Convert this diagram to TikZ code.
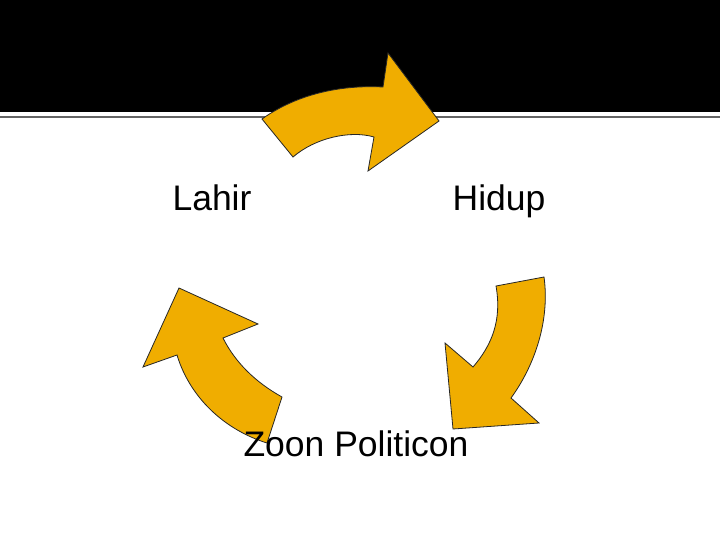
\documentclass[tikz,border=0pt]{standalone}
\usepackage{fontspec}
\setmainfont{Liberation Sans}
\usepackage{xcolor}
\definecolor{cyclegold}{RGB}{240,173,0}
\definecolor{rulegrey}{RGB}{100,100,100}

\begin{document}
\begin{tikzpicture}[
    x=1pt, y=-1pt,
    every node/.style={font=\fontsize{35.5}{42}\selectfont, inner sep=0pt, anchor=base},
    band/.style={fill=black},
    rule/.style={draw=rulegrey, line width=1.2pt},
    blockarrow/.style={fill=cyclegold, draw=black!85, line width=0.8pt, line join=miter}
]
\useasboundingbox (0,0) rectangle (720,540);
\fill[white] (0,0) rectangle (720,540);

% title band
\fill[band] (0,0) rectangle (720,112.5);
\draw[rule] (0,117) -- (720,117);

% top arrow: Lahir -> Hidup
\draw[blockarrow] (262,119) .. controls (300,92) and (345,85) .. (383,87)
    -- (388,53) -- (439,121) -- (368,171) -- (374,137)
    .. controls (350,130) and (315,138) .. (293,157) -- cycle;

% right arrow: Hidup -> Zoon Politicon
\draw[blockarrow] (544,277) -- (496,286)
    .. controls (502,320) and (492,345) .. (473,367)
    -- (445,343) -- (453,429) -- (539,423) -- (511,398)
    .. controls (535,365) and (550,320) .. (544,277) -- cycle;

% left arrow: Zoon Politicon -> Lahir
\draw[blockarrow] (267,443) -- (282,397)
    .. controls (255,382) and (235,362) .. (223,338)
    -- (258,324) -- (179,288) -- (143,367) -- (177,355)
    .. controls (190,398) and (225,430) .. (267,443) -- cycle;

% labels
\node (lahir) at (212,211) {Lahir};
\node (hidup) at (499,211) {Hidup};
\node (zoon) at (356,456) {Zoon Politicon};

\end{tikzpicture}
\end{document}
